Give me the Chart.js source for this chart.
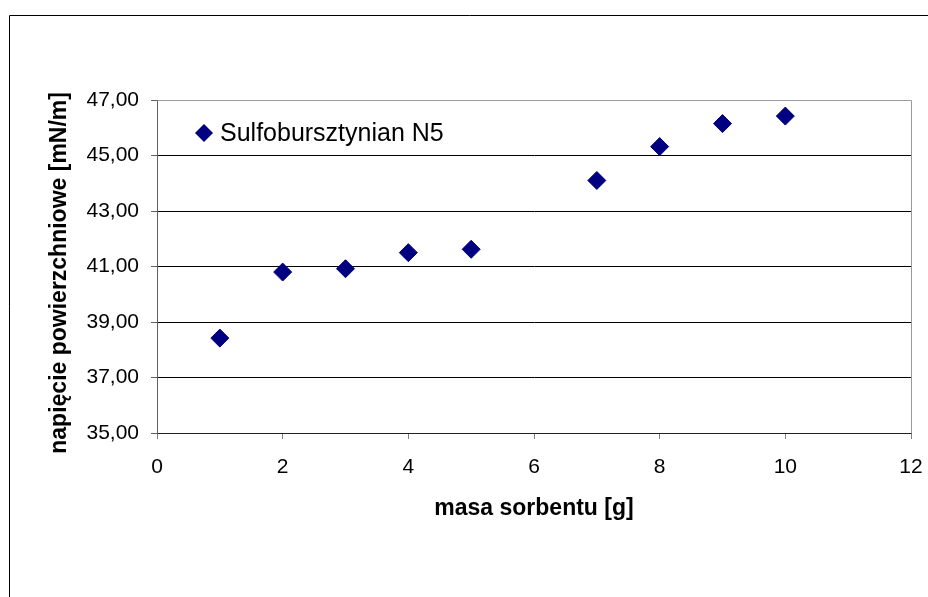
<!DOCTYPE html>
<html>
<head>
<meta charset="utf-8">
<script src="https://cdn.jsdelivr.net/npm/chart.js@4/dist/chart.umd.min.js"></script>
<style>
  html, body { margin: 0; padding: 0; background: #fff; }
  #wrap { width: 928px; height: 597px; position: relative; }
</style>
</head>
<body>
<div id="wrap"><canvas id="chart"></canvas></div>
<script>
// data
const masa = [1, 2, 3, 4, 5, 7, 8, 9, 10];
const napiecie = [38.42, 40.80, 40.92, 41.50, 41.62, 44.10, 45.32, 46.15, 46.42];
const seriesLabel = 'Sulfobursztynian N5';
const yTicks = [35, 37, 39, 41, 43, 45, 47];
const yTickLabels = ['35,00', '37,00', '39,00', '41,00', '43,00', '45,00', '47,00'];
const xTitle = 'masa sorbentu [g]';
const yTitle = 'napięcie powierzchniowe [mN/m]  '; // trailing spaces nudge it down a bit

const navy = '#000080';
const fontFamily = '"Liberation Sans", Arial, sans-serif';

// white page + outer frame (left/top edges visible, rest runs off the picture)
const framePlugin = {
    id: 'frame',
    beforeDraw(chart) {
        const c = chart.ctx;
        c.save();
        c.fillStyle = '#fff';
        c.fillRect(0, 0, chart.width, chart.height);
        c.strokeStyle = '#000';
        c.lineWidth = 1;
        c.beginPath();
        c.moveTo(9.5, chart.height + 2);
        c.lineTo(9.5, 15.5);
        c.lineTo(chart.width + 2, 15.5);
        c.stroke();
        c.restore();
    }
};

// grey top/right edges of plot area
const plotBorder = {
    id: 'plotBorder',
    beforeDatasetsDraw(chart) {
        const a = chart.chartArea;
        const c = chart.ctx;
        c.save();
        c.strokeStyle = '#9a9a9a';
        c.lineWidth = 1;
        c.beginPath();
        c.moveTo(Math.round(a.left) + 0.5, Math.round(a.top) + 0.5);
        c.lineTo(Math.round(a.right) + 0.5, Math.round(a.top) + 0.5);
        c.lineTo(Math.round(a.right) + 0.5, Math.round(a.bottom) + 0.5);
        c.stroke();
        c.restore();
    }
};

// legend drawn inside the plot area, top-left
const innerLegend = {
    id: 'innerLegend',
    afterDatasetsDraw(chart) {
        const a = chart.chartArea;
        const c = chart.ctx;
        const ds = chart.data.datasets[0];
        const cx = a.left + 47, cy = a.top + 33;
        c.save();
        c.fillStyle = navy;
        c.beginPath();
        c.moveTo(cx, cy - 9); c.lineTo(cx + 9, cy); c.lineTo(cx, cy + 9); c.lineTo(cx - 9, cy);
        c.closePath();
        c.fill();
        c.font = '25px ' + fontFamily;
        c.fillStyle = '#000';
        c.textBaseline = 'middle';
        c.textAlign = 'left';
        c.fillText(ds.label, cx + 16, cy + 1);
        c.restore();
    }
};

const ctx = document.getElementById('chart').getContext('2d');

new Chart(ctx, {
    type: 'scatter',
    data: {
        datasets: [{
            label: seriesLabel,
            data: masa.map((x, i) => ({ x: x, y: napiecie[i] })),
            pointStyle: 'rectRot',
            pointRadius: 9,
            pointHoverRadius: 9,
            backgroundColor: navy,
            borderColor: navy,
            borderWidth: 1
        }]
    },
    options: {
        responsive: true,
        maintainAspectRatio: false,
        animation: false,
        layout: { padding: { top: 100, right: 17, left: 0, bottom: 0 } },
        plugins: {
            legend: { display: false },
            tooltip: { enabled: false }
        },
        scales: {
            x: {
                type: 'linear',
                min: 0,
                max: 12,
                afterFit(scale) {
                    scale.height = 164;
                    scale.paddingLeft = 0;
                    scale.paddingRight = 0;
                },
                ticks: {
                    stepSize: 2,
                    color: '#000',
                    padding: 16,
                    font: { family: fontFamily, size: 21 }
                },
                grid: {
                    drawOnChartArea: false,
                    drawTicks: true,
                    tickLength: 6,
                    color: '#808080'
                },
                border: { display: true, color: '#202020', width: 1 },
                title: {
                    display: true,
                    text: xTitle,
                    color: '#000',
                    padding: { top: 0, bottom: 75 },
                    font: { family: fontFamily, size: 23, weight: 'bold' }
                }
            },
            y: {
                min: 35,
                max: 47,
                afterFit(scale) {
                    scale.width = 157;
                    scale.paddingTop = 0;
                    scale.paddingBottom = 0;
                },
                afterBuildTicks(scale) { scale.ticks = yTicks.map(v => ({ value: v })); },
                ticks: {
                    color: '#000',
                    padding: 12,
                    font: { family: fontFamily, size: 21 },
                    callback: (v) => yTickLabels[yTicks.indexOf(v)]
                },
                grid: {
                    color: (c) => (c.tick && c.tick.value === 47) ? '#9a9a9a' : '#000',
                    tickColor: '#606060',
                    drawTicks: true,
                    tickLength: 6,
                    lineWidth: 1
                },
                border: { display: true, color: '#606060', width: 1 },
                title: {
                    display: true,
                    text: yTitle,
                    color: '#000',
                    padding: { top: 46, bottom: 0 },
                    font: { family: fontFamily, size: 23, weight: 'bold' }
                }
            }
        }
    },
    plugins: [framePlugin, plotBorder, innerLegend]
});
</script>
</body>
</html>
